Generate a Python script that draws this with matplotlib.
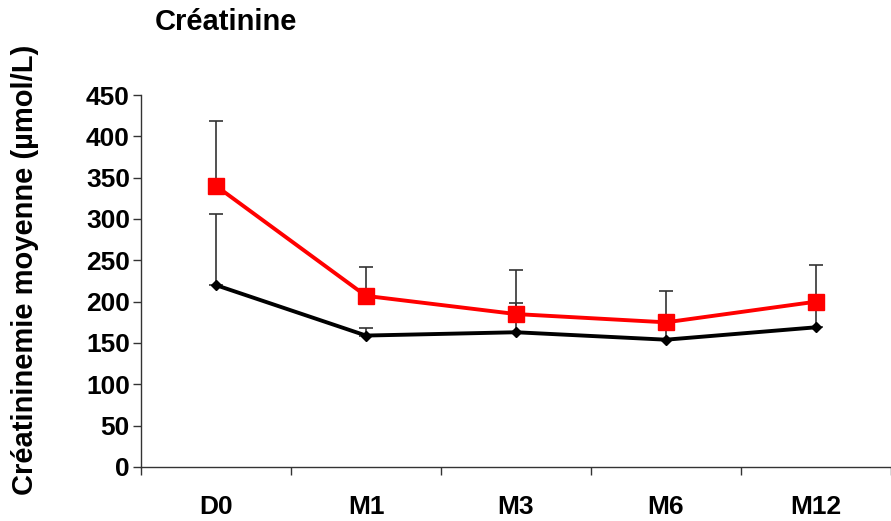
import matplotlib
matplotlib.use("Agg")
import matplotlib.pyplot as plt
import numpy as np

plt.rcParams['font.family'] = ['Liberation Sans', 'DejaVu Sans']

categories = ["D0", "M1", "M3", "M6", "M12"]
red_mean = [340, 207, 185, 175, 200]
red_err = [78, 35, 53, 38, 44]
black_mean = [220, 159, 163, 154, 169]
black_err = [86, 9, 35, 16, 26]

fig = plt.figure(figsize=(8.91, 5.21), dpi=100)
ax = fig.add_axes([141/891, (521-467)/521, 1 - 141/891, (467-95)/521])

x = np.arange(len(categories))

ax.errorbar(x, black_mean, yerr=[np.zeros(len(x)), black_err], fmt='none',
            ecolor='#333333', elinewidth=1.2, capsize=5, capthick=1.2, zorder=2)
ax.errorbar(x, red_mean, yerr=[np.zeros(len(x)), red_err], fmt='none',
            ecolor='#333333', elinewidth=1.2, capsize=5, capthick=1.2, zorder=2)
ax.plot(x, black_mean, color='black', lw=2.8, marker='D', markersize=5.5, zorder=3)
ax.plot(x, red_mean, color='#ff0000', lw=2.8, marker='s', markersize=12, zorder=4)

ax.set_xlim(-0.5, len(categories) - 0.5)
ax.set_ylim(0, 450)
ax.set_yticks(np.arange(0, 451, 50))
ax.set_xticks(x)
ax.set_xticklabels(categories, fontsize=19, fontweight='bold')
ax.set_xticks(np.arange(-0.5, len(categories), 1), minor=True)
ax.tick_params(axis='x', which='major', length=0, pad=20)
ax.tick_params(axis='x', which='minor', length=6, width=1, color='#333333', direction='out')
ax.tick_params(axis='y', length=6, width=1, color='#333333', direction='out', labelsize=19, pad=2)
for lab in ax.get_yticklabels():
    lab.set_fontweight('bold')

ax.spines['top'].set_visible(False)
ax.spines['right'].set_visible(False)
ax.spines['left'].set_color('#333333')
ax.spines['bottom'].set_color('#333333')
ax.spines['left'].set_linewidth(1)
ax.spines['bottom'].set_linewidth(1)

fig.text(25/891, 1 - 270/521, "Créatininemie moyenne (µmol/L)", fontsize=21, fontweight='bold',
         rotation=90, va='center', ha='center')
fig.text(155/891, 1 - 22/521, "Créatinine", fontsize=21, fontweight='bold', va='center', ha='left')

fig.savefig("out.png", dpi=100)
